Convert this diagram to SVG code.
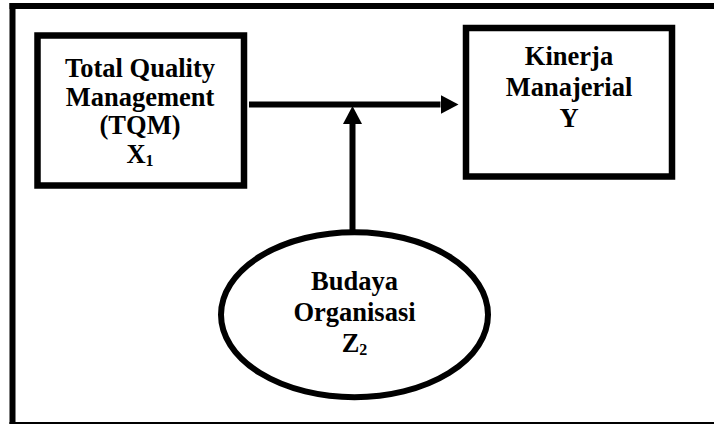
<svg xmlns="http://www.w3.org/2000/svg" width="714" height="424" viewBox="0 0 714 424">
<style>
.box{fill:#fff;stroke:#000;stroke-width:6.5}
.ell{fill:#fff;stroke:#000;stroke-width:6}
.lbl{font-weight:bold;font-size:26.5px;fill:#000;text-anchor:middle}
.sub{font-size:16px}
.con{stroke:#000;stroke-width:6;fill:none}
.frame{stroke:#000;fill:none}
</style>
<defs>
<marker id="ah" markerUnits="userSpaceOnUse" markerWidth="19" markerHeight="19" refX="0" refY="9.5" orient="auto">
<path d="M0,0 L18,9.5 L0,19 z" fill="#000"/>
</marker>
</defs>
<rect width="714" height="424" fill="#fff"/>
<g id="frame">
<line class="frame" x1="12.5" y1="3" x2="12.5" y2="424" stroke-width="6"/>
<line class="frame" x1="9.5" y1="6" x2="714" y2="6" stroke-width="6"/>
<line class="frame" x1="9.5" y1="423" x2="714" y2="423" stroke-width="2"/>
</g>
<g id="connectors">
<line class="con" x1="249" y1="104.5" x2="440.5" y2="104.5" marker-end="url(#ah)"/>
<line class="con" x1="352.5" y1="230" x2="352.5" y2="124" marker-end="url(#ah)"/>
</g>
<g font-family="'Liberation Serif', 'DejaVu Serif', serif">
<g id="node-tqm">
<rect class="box" x="37.5" y="35.5" width="206.5" height="150"/>
<text class="lbl" x="140" y="77">Total Quality</text>
<text class="lbl" x="140" y="105.5">Management</text>
<text class="lbl" x="140" y="134">(TQM)</text>
<text class="lbl" x="140" y="162.5">X<tspan class="sub" dy="3">1</tspan></text>
</g>
<g id="node-kinerja">
<rect class="box" x="466" y="28" width="206" height="148.5"/>
<text class="lbl" x="569" y="64.5">Kinerja</text>
<text class="lbl" x="569" y="95.5">Manajerial</text>
<text class="lbl" x="569" y="126.5">Y</text>
</g>
<g id="node-budaya">
<ellipse class="ell" cx="354.5" cy="314.7" rx="133.5" ry="82.5"/>
<text class="lbl" x="354.5" y="290">Budaya</text>
<text class="lbl" x="354.5" y="321">Organisasi</text>
<text class="lbl" x="354.5" y="352">Z<tspan class="sub" dy="3">2</tspan></text>
</g>
</g>
</svg>
